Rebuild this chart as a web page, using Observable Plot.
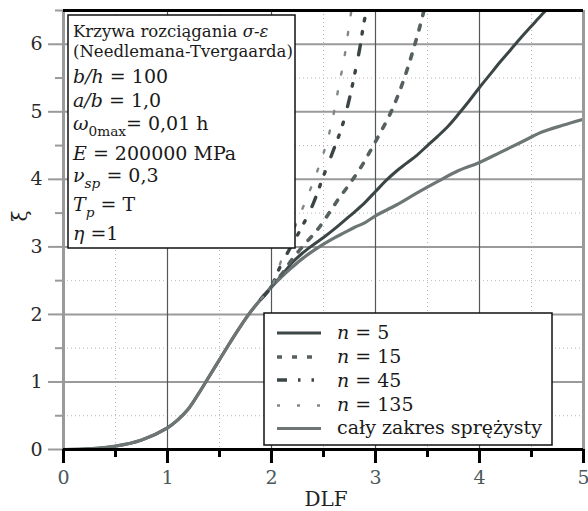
<!DOCTYPE html>
<html><head><meta charset="utf-8">
<script src="https://cdn.jsdelivr.net/npm/d3@7"></script>
<script src="https://cdn.jsdelivr.net/npm/@observablehq/plot@0.6"></script>
<style>body{margin:0;background:#fff}</style>
</head><body><div id="chart"></div>
<script>
// shared initial branch (all curves coincide)
const baseDLF = [0, 0.25, 0.5, 0.75, 1.0, 1.1, 1.2, 1.3, 1.4, 1.5, 1.6, 1.7, 1.8, 1.9, 2.0];
const baseXi  = [0, 0.01, 0.05, 0.14, 0.32, 0.44, 0.6, 0.83, 1.08, 1.33, 1.58, 1.82, 2.04, 2.23, 2.41];

const n5DLF = [2.1, 2.2, 2.3, 2.4, 2.5, 2.6, 2.7, 2.8, 2.9, 3.0, 3.1, 3.2, 3.3, 3.4, 3.5, 3.6, 3.7, 3.8, 3.9, 4.0, 4.1, 4.2, 4.3, 4.4, 4.5, 4.6, 4.7];
const n5Xi  = [2.58, 2.77, 2.91, 3.03, 3.14, 3.26, 3.39, 3.52, 3.66, 3.82, 3.98, 4.12, 4.24, 4.36, 4.5, 4.64, 4.79, 4.97, 5.16, 5.36, 5.55, 5.74, 5.92, 6.1, 6.27, 6.44, 6.6];

const n15DLF = [2.1, 2.2, 2.33, 2.44, 2.54, 2.64, 2.75, 2.86, 2.95, 3.05, 3.15, 3.25, 3.35, 3.45, 3.48];
const n15Xi  = [2.6, 2.82, 3.06, 3.25, 3.47, 3.7, 3.93, 4.18, 4.42, 4.7, 5.0, 5.38, 5.85, 6.4, 6.6];

const n45DLF = [2.05, 2.15, 2.28, 2.39, 2.5, 2.6, 2.68, 2.75, 2.8, 2.85, 2.89, 2.93];
const n45Xi  = [2.6, 2.9, 3.26, 3.6, 4.05, 4.45, 4.79, 5.2, 5.56, 5.95, 6.33, 6.6];

const n135DLF = [2.06, 2.12, 2.2, 2.28, 2.36, 2.43, 2.49, 2.55, 2.6, 2.65, 2.7, 2.76, 2.78];
const n135Xi  = [2.65, 2.91, 3.2, 3.5, 3.8, 4.08, 4.34, 4.65, 4.99, 5.4, 5.8, 6.42, 6.6];

const elDLF = [2.1, 2.2, 2.3, 2.4, 2.5, 2.6, 2.7, 2.8, 2.9, 3.0, 3.2, 3.4, 3.6, 3.8, 4.0, 4.2, 4.4, 4.6, 4.8, 5.0];
const elXi  = [2.56, 2.7, 2.83, 2.94, 3.04, 3.13, 3.21, 3.29, 3.36, 3.46, 3.62, 3.8, 3.97, 4.13, 4.25, 4.4, 4.55, 4.7, 4.8, 4.89];

const xMajor = [0, 1, 2, 3, 4, 5];
const xMinor = [0.5, 1.5, 2.5, 3.5, 4.5];
const yMajor = [0, 1, 2, 3, 4, 5, 6];
const yMinor = [0.5, 1.5, 2.5, 3.5, 4.5, 5.5, 6.5];

const legendLabels = ["5", "15", "45", "135"];
const legendLast = "cały zakres sprężysty";

function series(xs, ys, fromBase) {
  const pts = [];
  const bx = fromBase === "all" ? baseDLF : baseDLF.slice(-2);
  const by = fromBase === "all" ? baseXi : baseXi.slice(-2);
  bx.forEach((x, i) => pts.push({x, y: by[i]}));
  xs.forEach((x, i) => pts.push({x, y: ys[i]}));
  return pts;
}

const S = {
  n5:   {data: series(n5DLF, n5Xi, "all"), stroke: "#3c4545", w: 3, dash: null},
  el:   {data: series(elDLF, elXi, "all"), stroke: "#6d7575", w: 3.2, dash: null},
  n15:  {data: series(n15DLF, n15Xi), stroke: "#566060", w: 3.6, dash: "5,10"},
  n45:  {data: series(n45DLF, n45Xi), stroke: "#3c4545", w: 3.4, dash: "10,11,2.5,11,2.5,16"},
  n135: {data: series(n135DLF, n135Xi), stroke: "#7f8787", w: 2.4, dash: "3,17"}
};

const FONT = "DejaVu Serif";
const lineMark = s => Plot.line(s.data, {x: "x", y: "y", stroke: s.stroke, strokeWidth: s.w,
  strokeDasharray: s.dash || undefined, curve: "catmull-rom", clip: true});

const plot = Plot.plot({
  width: 588, height: 511,
  marginLeft: 63, marginRight: 5, marginTop: 10, marginBottom: 62,
  x: {domain: [0, 5]},
  y: {domain: [0, 6.5]},
  style: {fontFamily: FONT, fontSize: "19px", background: "white"},
  marks: [
    Plot.ruleX(xMinor, {stroke: "#b8b8b8", strokeWidth: 1, strokeDasharray: "1,3"}),
    Plot.ruleY(yMinor.slice(0, -1), {stroke: "#b8b8b8", strokeWidth: 1, strokeDasharray: "1,3"}),
    Plot.ruleY(yMajor.slice(1), {stroke: "#9a9a9a", strokeWidth: 2}),
    Plot.ruleX(xMajor.slice(1, -1), {stroke: "#505858", strokeWidth: 1.2}),
    lineMark(S.n5),
    lineMark(S.el),
    lineMark(S.n15),
    lineMark(S.n45),
    lineMark(S.n135),
    Plot.ruleX([0], {stroke: "#9a9a9a", strokeWidth: 3}),
    Plot.ruleX([5], {stroke: "#9a9a9a", strokeWidth: 3}),
    Plot.ruleY([0], {stroke: "#000", strokeWidth: 3}),
    Plot.ruleY([6.5], {stroke: "#000", strokeWidth: 3}),
    Plot.axisY(yMajor, {tickSize: 15, tickPadding: 6, stroke: "#9a9a9a", strokeWidth: 2, fill: "#2a2a2a", fontSize: 19, fontFamily: FONT, tickFormat: d => String(d), label: null}),
    Plot.axisY(yMinor, {tickSize: 8, stroke: "#9a9a9a", strokeWidth: 2, text: null, label: null}),
    Plot.axisX(xMajor, {tickSize: 14, tickPadding: 7, stroke: "#000", strokeWidth: 3, fill: "#4b585c", fontSize: 19, fontFamily: FONT, tickFormat: d => String(d), label: null}),
    Plot.axisX(xMinor, {tickSize: 8, stroke: "#000", strokeWidth: 3, text: null, label: null})
  ]
});
document.getElementById("chart").appendChild(plot);

const svg = d3.select(plot);
svg.selectAll("text").attr("font-family", FONT);

// axis titles
svg.append("text").attr("x", 326).attr("y", 506).attr("text-anchor", "middle")
  .attr("font-family", FONT).attr("font-size", 20).attr("fill", "#222").text("DLF");
svg.append("text").attr("transform", "translate(27,216) rotate(-90)").attr("text-anchor", "middle")
  .attr("font-family", FONT).attr("font-size", 20).attr("fill", "#222").text("ξ");

function addLine(g, x, y, parts, size) {
  const t = g.append("text").attr("x", x).attr("y", y).attr("font-family", FONT)
    .attr("text-anchor", "start").attr("font-size", size).attr("fill", "#1a1a1a");
  parts.forEach(p => {
    const sp = t.append("tspan").text(p.t);
    if (p.i) sp.attr("font-style", "italic");
    if (p.sub) { sp.attr("font-size", size * 0.72).attr("dy", size * 0.3); }
    if (p.back) { sp.attr("dy", -size * 0.3); }
  });
}

// info box
const info = svg.append("g");
info.append("rect").attr("x", 68).attr("y", 15).attr("width", 227).attr("height", 233)
  .attr("fill", "white").attr("stroke", "#111").attr("stroke-width", 1.5);
addLine(info, 73, 37, [{t: "Krzywa rozciągania "}, {t: "σ-ε", i: true}], 16.5);
addLine(info, 73, 57, [{t: "(Needlemana-Tvergaarda)"}], 16.5);
addLine(info, 73, 83, [{t: "b/h", i: true}, {t: " = 100"}], 19);
addLine(info, 73, 107, [{t: "a/b", i: true}, {t: " = 1,0"}], 19);
addLine(info, 73, 130, [{t: "ω", i: true}, {t: "0max", sub: true}, {t: "= 0,01 h", back: true}], 19);
addLine(info, 73, 160, [{t: "E", i: true}, {t: " = 200000 MPa"}], 19);
addLine(info, 73, 182, [{t: "ν", i: true}, {t: "sp", i: true, sub: true}, {t: " = 0,3", back: true}], 19);
addLine(info, 73, 211, [{t: "T", i: true}, {t: "p", i: true, sub: true}, {t: " = T", back: true}], 19);
addLine(info, 73, 240, [{t: "η", i: true}, {t: " =1"}], 19);

// legend
const lg = svg.append("g");
lg.append("rect").attr("x", 264).attr("y", 313).attr("width", 288).attr("height", 132)
  .attr("fill", "white").attr("stroke", "#111").attr("stroke-width", 1.5);
const legendKeys = ["n5", "n15", "n45", "n135", "el"];
const sampleY = [333, 357, 380, 405.5, 428.5];
const textY = [339, 363, 387, 411, 434];
legendKeys.forEach((k, i) => {
  const s = S[k];
  lg.append("line").attr("x1", 277).attr("x2", 321).attr("y1", sampleY[i]).attr("y2", sampleY[i])
    .attr("stroke", s.stroke).attr("stroke-width", s.w).attr("stroke-dasharray", s.dash);
  if (i < 4) addLine(lg, 337, textY[i], [{t: "n", i: true}, {t: " = " + legendLabels[i]}], 19);
  else addLine(lg, 337, textY[i], [{t: legendLast}], 19);
});
</script></body></html>
